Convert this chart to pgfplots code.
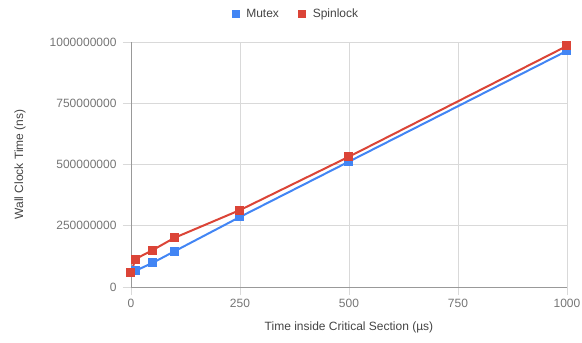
\documentclass[border=0pt]{standalone}
\usepackage{pgfplots}
\pgfplotsset{compat=1.18}
\usepackage{fontspec}
\setmainfont{Liberation Sans}
\definecolor{mutexc}{HTML}{4285F4}
\definecolor{spinc}{HTML}{DB4437}
\definecolor{ticktext}{HTML}{757575}
\definecolor{titletext}{HTML}{444444}
\definecolor{gridc}{HTML}{D9D9D9}
\begin{document}
\begin{tikzpicture}
\path[use as bounding box] (-131pt,-56pt) rectangle (451pt,287pt);
\begin{axis}[
  scale only axis, width=436pt, height=245pt,
  at={(0,0)}, anchor=south west,
  xmin=0, xmax=1000, ymin=0, ymax=1000000000,
  axis lines=left, axis line style={draw=gray!80, line width=0.8pt, -},
  xtick={0,250,500,750,1000},
  xticklabels={0,250,500,750,1000},
  ytick={0,250000000,500000000,750000000,1000000000},
  yticklabels={0,250000000,500000000,750000000,1000000000},
  scaled y ticks=false,
  grid=major, major grid style={gridc, line width=0.8pt},
  tick align=outside, major tick length=8pt,
  tick style={gridc, line width=0.8pt},
  /pgf/number format/assume math mode=true,
  ticklabel style={font=\fontsize{12}{14}\selectfont, text=ticktext},
  xticklabel style={yshift=-1pt},
  yticklabel style={xshift=-3pt},
  label style={font=\fontsize{12}{14}\selectfont, text=titletext},
  xlabel={Time inside Critical Section (µs)},
  ylabel={Wall Clock Time (ns)},
  xlabel style={at={(axis description cs:0.5,0)}, anchor=center, yshift=-40pt},
  ylabel style={at={(axis description cs:-0.2546,0.5)}, anchor=center},
  legend style={draw=none, fill=none, legend columns=-1, at={(rel axis cs:0.378,1.114)}, anchor=center,
    font=\fontsize{12}{14}\selectfont, text=titletext,
    /tikz/every even column/.append style={column sep=17pt}},
  legend image code/.code={\path[draw=none] (0,0) -- (0.45cm,0); \draw[#1, mark=square*, mark size=3.5pt] plot coordinates {(0.15cm,0)};},
  clip=false,
]
\addplot[mutexc, line width=2pt, mark=square*, mark size=4pt, mark options={solid, fill=mutexc, line width=0pt}]
  coordinates {(0,60000000) (10,66000000) (50,99000000) (100,146000000) (250,286000000) (500,512000000) (1000,964000000)};
\addlegendentry{Mutex}
\addplot[spinc, line width=2pt, mark=square*, mark size=4pt, mark options={solid, fill=spinc, line width=0pt}]
  coordinates {(0,58000000) (10,114000000) (50,151000000) (100,201000000) (250,314000000) (500,532000000) (1000,984000000)};
\addlegendentry{Spinlock}
\end{axis}
\end{tikzpicture}
\end{document}
